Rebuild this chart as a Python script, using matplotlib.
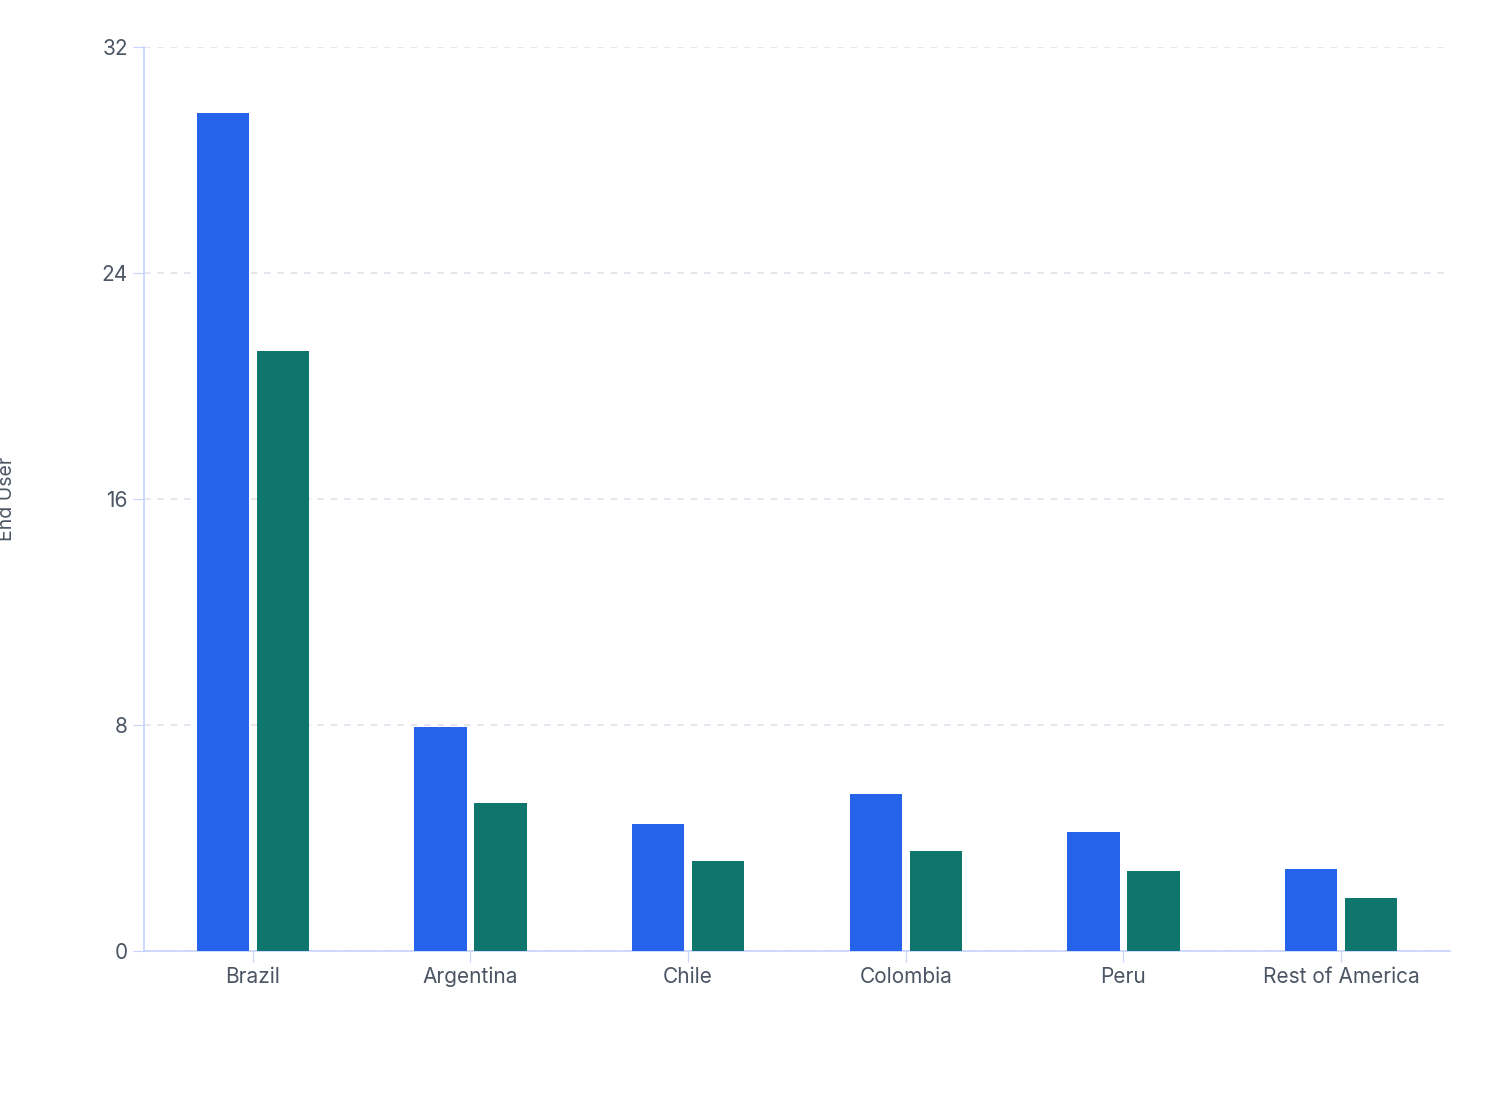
import matplotlib
matplotlib.use("Agg")
import matplotlib.pyplot as plt
import numpy as np

categories = ["Brazil", "Argentina", "Chile", "Colombia", "Peru", "Rest of America"]
series_a = [29.66, 7.93, 4.50, 5.56, 4.21, 2.90]
series_b = [21.24, 5.24, 3.19, 3.54, 2.83, 1.88]
yticks = [0, 8, 16, 24, 32]

plt.rcParams['font.family'] = ['Inter', 'DejaVu Sans']
fig = plt.figure(figsize=(15.08, 11.2), dpi=100)
ax = fig.add_axes([144/1508, 1-951/1120, (1450-144)/1508, (951-47)/1120])
x = np.arange(len(categories))
w = 0.24
off = 30/218
ax.bar(x-off, series_a, w, color="#2563eb", zorder=3)
ax.bar(x+off, series_b, w, color="#0f766e", zorder=3)
ax.set_xlim(-0.5, 5.5)
ax.set_ylim(0, 32)
ax.set_yticks(yticks)
ax.set_xticks(x)
ax.set_xticklabels(categories)
ax.grid(axis='y', linestyle=(0, (4, 4)), color="#dfe3ea", linewidth=1.2, zorder=0)
for s in ['top', 'right']:
    ax.spines[s].set_visible(False)
for s in ['left', 'bottom']:
    ax.spines[s].set_color("#c7d2fe")
    ax.spines[s].set_linewidth(1.2)
ax.tick_params(colors="#c7d2fe", labelcolor="#4b5563", labelsize=15, length=8)
ax.set_ylabel("End User", fontsize=14, color="#4b5563")
ax.yaxis.set_label_coords(-0.098, 0.5)
fig.savefig("out.png", dpi=100)
